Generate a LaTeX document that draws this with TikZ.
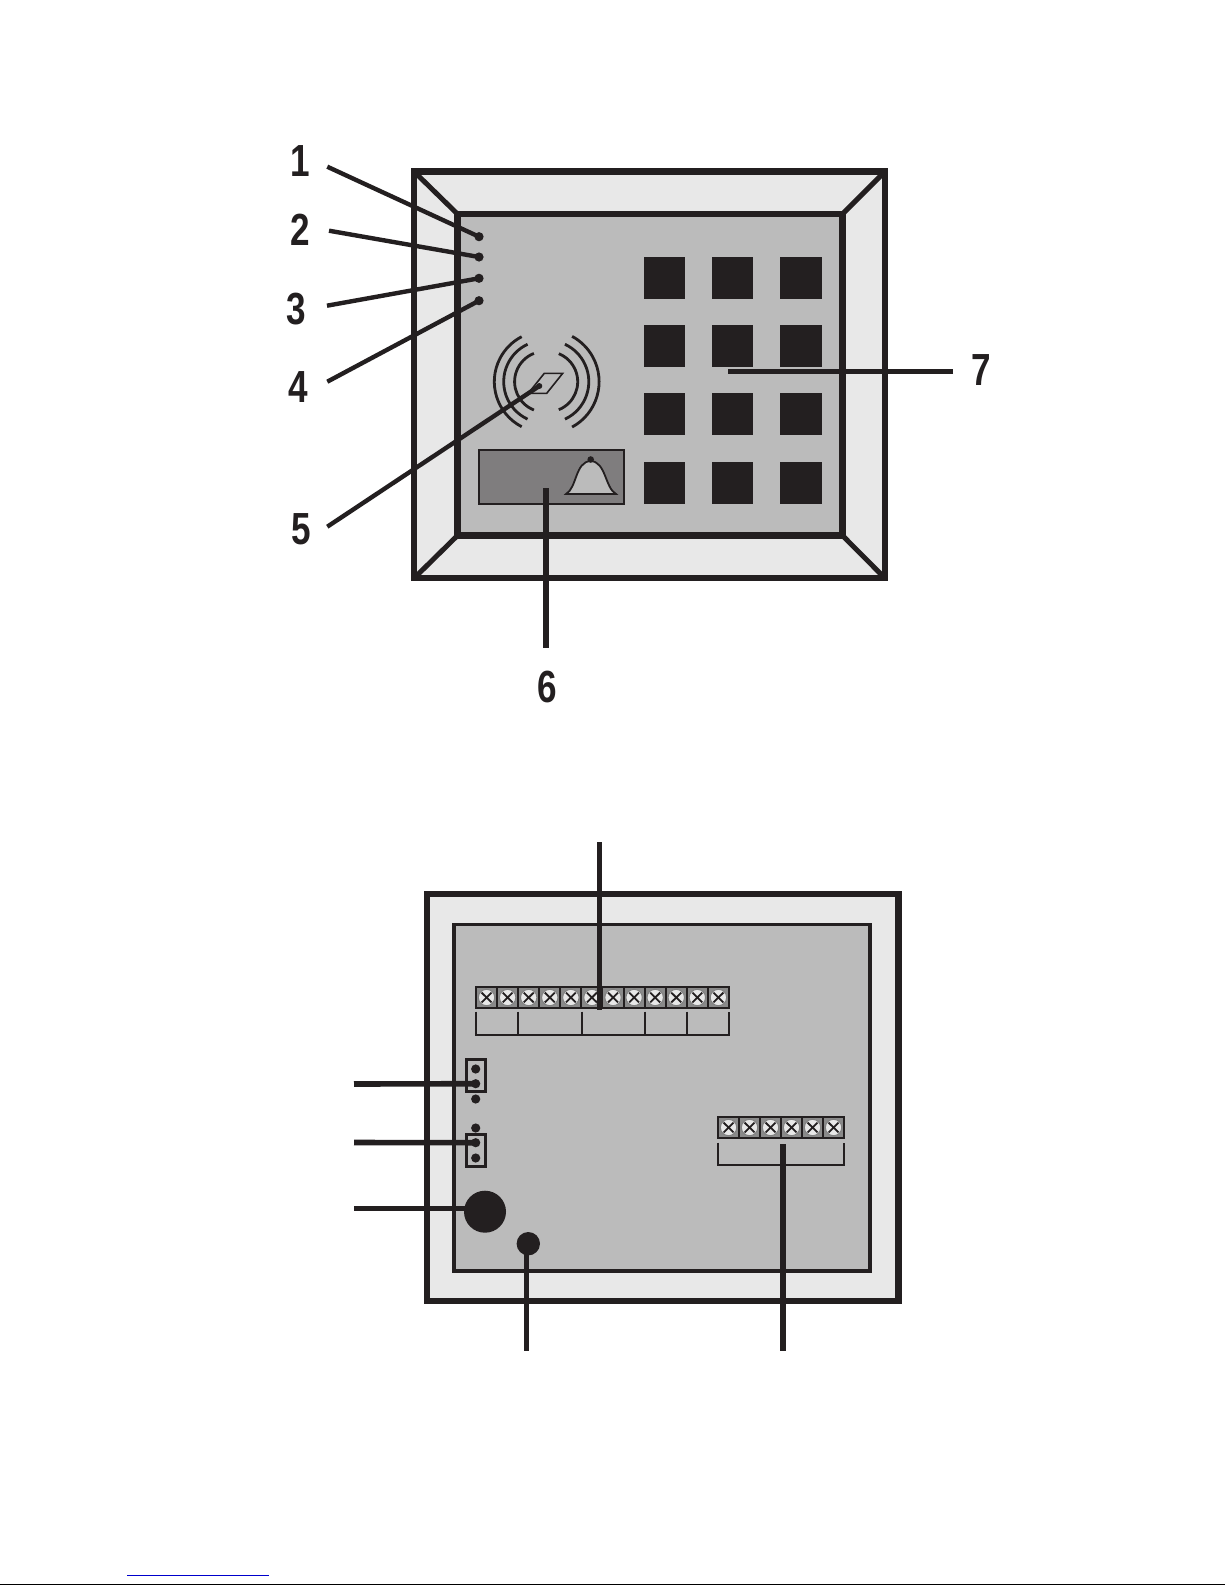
\documentclass[tikz,border=0pt]{standalone}
\usepackage{fontspec}
\setmainfont{Liberation Sans}[FakeStretch=0.78]
\definecolor{ink}{HTML}{231F20}
\definecolor{pale}{HTML}{E8E8E8}
\definecolor{midgray}{HTML}{BBBBBB}
\definecolor{panelgray}{HTML}{7F7D7E}
\definecolor{cellgray}{HTML}{8A8A8A}
\definecolor{linkblue}{HTML}{0000CC}
\tikzset{
  frameline/.style={draw=ink,line width=6.3pt,miter limit=10},
  innerline/.style={draw=ink,line width=3.7pt},
  leader/.style={draw=ink,line width=4.4pt},
  heavy/.style={draw=ink,line width=5.4pt},
  key/.style={fill=ink,draw=none},
  led/.style={circle,fill=ink,draw=none,minimum size=9.2pt,inner sep=0pt},
  numlabel/.style={font=\fontsize{45}{45}\selectfont\bfseries,text=ink,inner sep=0pt},
  wave/.style={draw=ink,line width=2.8pt},
  brk/.style={draw=ink,line width=1.9pt},
  jumper/.style={draw=ink,line width=2.7pt},
}
\newcommand{\screwcell}[2]{%
  \fill[cellgray] (#1,#2) rectangle +(21.08,21);
  \draw[ink,line width=1.9pt] (#1,#2) rectangle +(21.08,21);
  \fill[pale,draw=gray,line width=1pt] (#1+10.54,#2+10.5) circle (8.2);
  \draw[ink,line width=1.8pt] (#1+5.6,#2+5.6) -- (#1+15.5,#2+15.4) (#1+5.6,#2+15.4) -- (#1+15.5,#2+5.6);
}
\begin{document}
\begin{tikzpicture}[x=1pt,y=-1pt]
\useasboundingbox (0,0) rectangle (1225,1585);
\fill[white] (0,0) rectangle (1225,1585);

% --- front view ---
\path[frameline,fill=pale] (414,171.5) rectangle (885,578.3);
\path[fill=midgray] (457.5,214) rectangle (842.5,535.5);
\draw[ink,line width=5pt] (414,171.5) -- (457.5,214)
  (885,171.5) -- (842.5,214)
  (414,578.3) -- (457.5,535.5)
  (885,578.3) -- (842.5,535.5);
\path[frameline] (457.5,214) rectangle (842.5,535.5);

% keypad
\foreach \ya/\yb in {257/298.7,325/366.7,393/434.7,462/503.7}{
  \fill[key] (644,\ya) rectangle (685,\yb);
  \fill[key] (712,\ya) rectangle (753,\yb);
  \fill[key] (780,\ya) rectangle (822,\yb);
}

% LEDs
\node[led] (d1) at (479,236.7) {};
\node[led] (d2) at (479,257) {};
\node[led] (d3) at (479,278.3) {};
\node[led] (d4) at (479,300.7) {};

% reader waves
\coordinate (wl) at (545,381.7);
\coordinate (wr) at (547.5,381.7);
\draw[wave] ([shift={(117.4:50.7)}]wl) arc (117.4:242.6:50.7);
\draw[wave] ([shift={(115:41.3)}]wl) arc (115:245:41.3);
\draw[wave] ([shift={(111.4:30.4)}]wl) arc (111.4:248.6:30.4);
\draw[wave] ([shift={(61.5:51.6)}]wr) arc (61.5:-61.5:51.6);
\draw[wave] ([shift={(65:41.3)}]wr) arc (65:-65:41.3);
\draw[wave] ([shift={(68:30.2)}]wr) arc (68:-68:30.2);

% card
\draw[ink,line width=1.6pt,fill=midgray] (544.3,373.3) -- (562.7,373.3) -- (546.7,393.3) -- (528.3,393.3) -- cycle;

% bell panel
\draw[ink,line width=1.9pt,fill=panelgray] (478.7,450) rectangle (624.3,504);
\draw[ink,line width=1.8pt,fill=midgray,line join=miter]
  (566,494) .. controls (577,488) and (575,461.7) .. (590.7,461)
  .. controls (606,461.7) and (605,488) .. (616,494) -- cycle;
\fill[ink] (590.7,459.5) circle (3.3);

% front labels and leaders
\coordinate (s1) at (327.3,166.7);
\coordinate (s2) at (329,230.7);
\coordinate (s3) at (327,305.7);
\coordinate (s4) at (327.3,381.7);
\coordinate (s5) at (327.3,526.7);
\coordinate (e5) at (539.3,386);
\coordinate (s6) at (546,647.7);
\coordinate (e6) at (546,488);
\coordinate (s7) at (953,371.3);
\coordinate (e7) at (728,371.3);
\draw[leader] (s1) -- (d1.center);
\draw[leader] (s2) -- (d2.center);
\draw[leader] (s3) -- (d3.center);
\draw[leader] (s4) -- (d4.center);
\draw[leader] (s5) -- (e5);
\fill[ink] (e5) circle (3);
\draw[heavy] (s6) -- (e6);
\draw[leader,line width=4.7pt] (s7) -- (e7);
\node[numlabel] (n1) at (300.5,161.2) {1};
\node[numlabel] (n2) at (300.5,229.8) {2};
\node[numlabel] (n3) at (296.7,309) {3};
\node[numlabel] (n4) at (298.3,387.5) {4};
\node[numlabel] (n5) at (300.8,528.8) {5};
\node[numlabel] (n6) at (547,687) {6};
\node[numlabel] (n7) at (981,370.3) {7};

% --- rear view ---
\path[frameline,fill=pale] (427,894) rectangle (898.5,1301);
\path[innerline,fill=midgray] (454,924.5) rectangle (870,1271);

% terminal strips
\foreach \i in {0,...,11}{ \pgfmathsetmacro{\xx}{476+21.08*\i} \screwcell{\xx}{987} }
\foreach \i in {0,...,5}{ \pgfmathsetmacro{\xx}{718+21*\i} \screwcell{\xx}{1117} }

% brackets
\draw[brk] (475.7,1011.7) -- (475.7,1035) -- (729.3,1035) -- (729.3,1011.7);
\draw[brk] (518,1011.7) -- (518,1035) (582,1011.7) -- (582,1035)
  (645,1011.7) -- (645,1035) (687,1011.7) -- (687,1035);
\draw[brk] (717.7,1142.7) -- (717.7,1165) -- (844,1165) -- (844,1142.7);

% jumpers
\draw[jumper] (466.3,1059.3) rectangle (485.7,1091.3);
\draw[jumper] (466.3,1134.3) rectangle (485.7,1166.7);
\node[led] (j1) at (475.7,1069) {};
\node[led] (j2) at (475.7,1083.7) {};
\node[led] (j3) at (475.7,1099) {};
\node[led] (j4) at (475.7,1128) {};
\node[led] (j5) at (475.7,1142.7) {};
\node[led] (j6) at (475.7,1158) {};

% holes
\node[circle,fill=ink,minimum size=42pt,inner sep=0pt] (big) at (485,1211.7) {};
\node[circle,fill=ink,minimum size=23.4pt,inner sep=0pt] (small) at (528.3,1243.7) {};

% rear leaders
\coordinate (r1) at (599.5,842);
\coordinate (r1e) at (599.5,1010);
\coordinate (r2) at (354,1084);
\coordinate (r3) at (354,1142.5);
\coordinate (r4) at (354,1208.3);
\coordinate (r4e) at (470,1208.3);
\coordinate (r5) at (526.5,1350.7);
\coordinate (r5e) at (526.5,1243.7);
\coordinate (r6) at (783,1350.7);
\coordinate (r6e) at (783,1144);
\draw[heavy,line width=5pt] (r1) -- (r1e);
\draw[heavy,line width=5.6pt] (r2) -- (j2.center);
\draw[heavy,line width=5.6pt] (r3) -- (j5.center);
\draw[heavy,line width=5.6pt] (r4) -- (r4e);
\draw[heavy,line width=5pt] (r5) -- (r5e);
\draw[heavy,line width=5.8pt] (r6) -- (r6e);

% page-bottom rules
\fill[linkblue] (127,1574.6) rectangle (269,1575.8);
\fill[black] (0,1583.6) rectangle (1225,1585);
\end{tikzpicture}
\end{document}
